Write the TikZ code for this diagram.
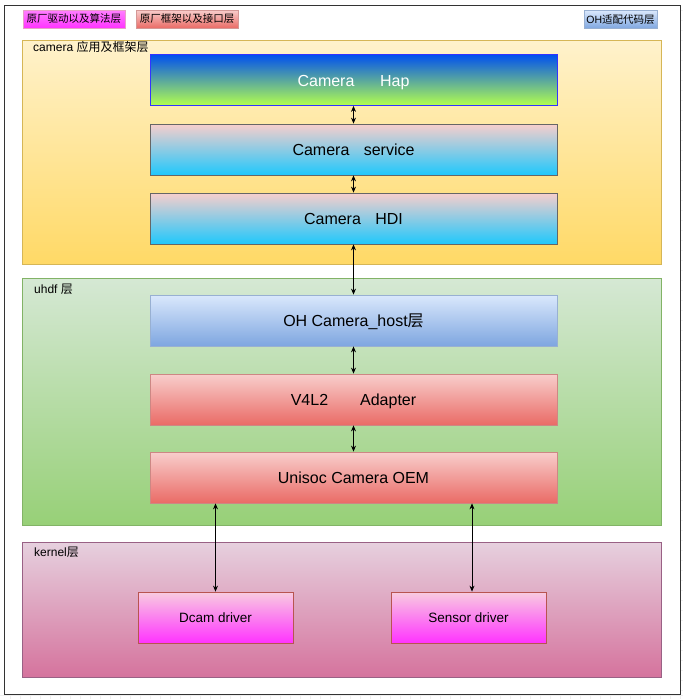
\documentclass[tikz,border=0pt]{standalone}
\usepackage{fontspec}
\setmainfont{Liberation Sans}
\newfontfamily\cjk{Noto Sans CJK SC}
\usetikzlibrary{arrows.meta}
\definecolor{gridc}{HTML}{EFEFEF}
\definecolor{yellowtop}{HTML}{FFF2CC}
\definecolor{yellowbot}{HTML}{FFD966}
\definecolor{yellowline}{HTML}{D6B656}
\definecolor{greentop}{HTML}{D5E8D4}
\definecolor{greenbot}{HTML}{97D077}
\definecolor{greenline}{HTML}{82B366}
\definecolor{pinktop}{HTML}{E6D0DE}
\definecolor{pinkbot}{HTML}{D5739D}
\definecolor{pinkline}{HTML}{996185}
\definecolor{bluetop}{HTML}{DAE8FC}
\definecolor{bluebot}{HTML}{7EA6E0}
\definecolor{blueline}{HTML}{6C8EBF}
\definecolor{redtop}{HTML}{F8CECC}
\definecolor{redbot}{HTML}{EA6B66}
\definecolor{redline}{HTML}{B85450}
\definecolor{haptop}{HTML}{0050EF}
\definecolor{hapbot}{HTML}{B3FF4D}
\definecolor{hapline}{HTML}{3333FF}
\definecolor{cyanbot}{HTML}{1FC8FC}
\definecolor{greyline}{HTML}{666666}
\definecolor{magtop}{HTML}{F8CCE0}
\definecolor{magbot}{HTML}{FF33FF}
\definecolor{legmagtop}{HTML}{FF80FF}
\definecolor{legmagline}{HTML}{E8A0C8}
\tikzset{
  grp/.style={draw, line width=0.8pt, minimum width=639pt, anchor=north west, inner sep=0pt},
  layerbox/.style={draw, line width=0.8pt, minimum width=407pt, minimum height=51pt, inner sep=0pt, text height=12pt, text depth=0pt, font=\fontsize{16}{18}\selectfont},
  drvbox/.style={draw=redline, line width=0.8pt, top color=magtop, bottom color=magbot, minimum width=155pt, minimum height=51pt, inner sep=0pt, text height=10pt, text depth=0pt, font=\fontsize{13.5}{16}\selectfont},
  legbox/.style={draw, line width=0.8pt, minimum height=18pt, inner sep=0pt, font=\fontsize{10.5}{12}\selectfont},
  grplabel/.style={anchor=west, inner sep=0pt, font=\fontsize{12}{14}\selectfont},
  biarrow/.style={{Stealth[length=6pt,width=5pt]}-{Stealth[length=6pt,width=5pt]}, line width=0.7pt},
}
\begin{document}
\begin{tikzpicture}[x=1pt,y=-1pt]
\useasboundingbox (0,0) rectangle (683,699);
% background grid
\fill[white] (0,0) rectangle (683,699);
\draw[gridc, line width=0.5pt] (0,695) -- (683,695);
\foreach \x in {10,20,...,680} \draw[gridc, line width=0.5pt] (\x,694) -- (\x,699);
\foreach \y in {10,20,...,690} \draw[gridc, line width=0.5pt] (680,\y) -- (683,\y);
\draw[black!80, line width=0.8pt] (4.5,5) rectangle (680,694.5);

% legend
\node[legbox, draw=legmagline, top color=legmagtop, bottom color=magbot, minimum width=102pt] (leg1) at (74,19) {{\cjk 原厂驱动以及算法层}};
\node[legbox, draw=redline!60, top color=redtop, bottom color=redbot, minimum width=102pt] (leg2) at (187,19) {{\cjk 原厂框架以及接口层}};
\node[legbox, draw=blueline!70, top color=bluetop, bottom color=bluebot, minimum width=73pt] (leg3) at (620.5,19.5) {OH{\cjk 适配代码层}};

% groups
\node[grp, draw=yellowline, top color=yellowtop, bottom color=yellowbot, minimum height=224pt] (gcam) at (22,40) {};
\node[grp, draw=greenline, top color=greentop, bottom color=greenbot, minimum height=247pt] (guhdf) at (22,278) {};
\node[grp, draw=pinkline, top color=pinktop, bottom color=pinkbot, minimum height=135pt] (gker) at (22,542) {};
\node[grplabel] (lcam) at (33,47) {camera {\cjk 应用及框架层}};
\node[grplabel] (luhdf) at (34,289) {uhdf {\cjk 层}};
\node[grplabel] (lker) at (34,552) {kernel{\cjk 层}};

% layer boxes
\node[layerbox, draw=hapline, top color=haptop, bottom color=hapbot, text=white] (hap) at (353.5,80) {Camera\hspace{1.6em}Hap};
\node[layerbox, draw=greyline, top color=redtop, bottom color=cyanbot] (svc) at (353.5,149.5) {Camera\hspace{0.9em}service};
\node[layerbox, draw=greyline, top color=redtop, bottom color=cyanbot] (hdi) at (353.5,218.5) {Camera\hspace{0.9em}HDI};
\node[layerbox, draw=blueline!70, top color=bluetop, bottom color=bluebot] (host) at (353.5,320.5) {OH Camera\_host{\cjk 层}};
\node[layerbox, draw=redline!70, top color=redtop, bottom color=redbot] (v4l2) at (353.5,399.5) {V4L2\hspace{2em}Adapter};
\node[layerbox, draw=redline!70, top color=redtop, bottom color=redbot] (oem) at (353.5,477.5) {Unisoc Camera OEM};

\node[drvbox] (dcam) at (215.5,617.5) {Dcam driver};
\node[drvbox] (sensor) at (468.5,617.5) {Sensor driver};

% arrows
\draw[biarrow] (hap.south) -- (svc.north);
\draw[biarrow] (svc.south) -- (hdi.north);
\draw[biarrow] (hdi.south) -- (host.north);
\draw[biarrow] (host.south) -- (v4l2.north);
\draw[biarrow] (v4l2.south) -- (oem.north);
\draw[biarrow] (oem.south -| dcam.north) -- (dcam.north);
\draw[biarrow] ([xshift=3.5pt]oem.south -| sensor.north) -- ([xshift=3.5pt]sensor.north);
\end{tikzpicture}
\end{document}
